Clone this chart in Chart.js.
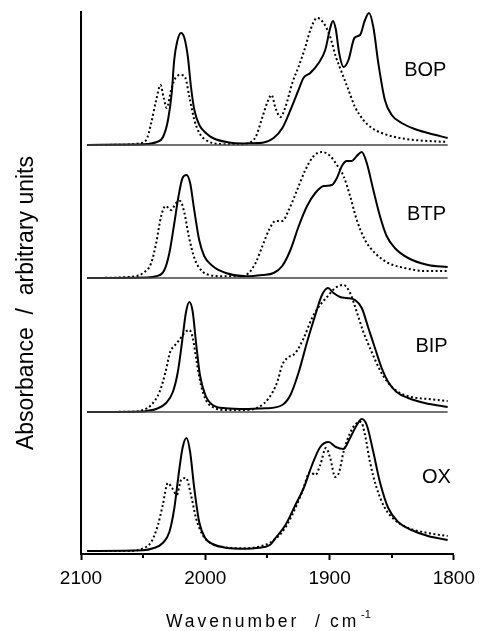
<!DOCTYPE html>
<html>
<head>
<meta charset="utf-8">
<script src="https://cdn.jsdelivr.net/npm/chart.js@4.4.1/dist/chart.umd.min.js"></script>
<style>
  html, body { margin: 0; padding: 0; background: #fff; }
</style>
</head>
<body>
<canvas id="myChart" width="482" height="631"></canvas>
<script>
// panels, top to bottom
var names = ["BOP", "BTP", "BIP", "OX"];
var xTicks = [2100, 2000, 1900, 1800];
var minorTicks = [2050, 1950, 1850];

// wavenumbers (cm-1) and absorbance (arbitrary units)
var bopSolidX = [2095, 2060, 2047, 2039, 2034, 2030, 2027, 2025, 2022.7, 2019.5, 2016.8, 2014, 2011.5, 2008.8, 2004.8, 1999.5, 1994, 1981, 1970, 1965, 1954, 1945, 1938, 1931.5, 1925, 1921, 1915.5, 1908.8, 1903.5, 1899.5, 1897.3, 1894.9, 1892.3, 1888.8, 1884.8, 1880, 1875.5, 1871.5, 1868.3, 1864.8, 1860.8, 1855.5, 1850, 1842, 1831.5, 1820.8, 1805];
var bopSolidY = [0, 0.5, 1, 3, 8, 25, 52, 85, 103, 112, 107, 88, 58, 35, 20, 12, 7, 2.5, 1.5, 1.7, 2.3, 7, 17, 35, 55, 67, 72, 82, 95, 117, 124, 115, 92, 78, 85, 107, 110, 125, 132, 118, 82, 45, 30, 22, 16, 12, 7];
var bopDotX = [2095, 2061, 2053, 2047.5, 2043.5, 2039.5, 2036, 2033.6, 2031, 2027.5, 2023.5, 2019.5, 2016, 2012.8, 2008.8, 2004.8, 1999.5, 1988.8, 1972.8, 1965, 1959.5, 1954, 1950, 1946.7, 1943.5, 1939.5, 1935.5, 1930, 1925, 1919.5, 1915.5, 1910, 1904.8, 1899.5, 1894.9, 1890, 1884.8, 1879.5, 1872.8, 1866, 1858, 1847.5, 1831.5, 1805];
var bopDotY = [0, 0.5, 1.7, 5, 22, 45, 60, 48, 37, 55, 68, 70, 67, 48, 25, 12, 5, 1, 0.7, 2, 8, 28, 43, 50, 37, 28, 38, 62, 78, 98, 115, 127, 122, 108, 88, 72, 55, 38, 25, 17, 12, 8, 5, 3];

var btpSolidX = [2095, 2047.5, 2039.5, 2032.9, 2028.9, 2024.9, 2021.5, 2018.3, 2015.1, 2012.2, 2008.9, 2004.9, 2000.9, 1994.1, 1983.5, 1967.5, 1954, 1945, 1938.1, 1931.5, 1924.8, 1918.1, 1911.5, 1904.8, 1898.1, 1894.1, 1890.1, 1886.1, 1882.1, 1878.1, 1874.1, 1870.1, 1864.8, 1859.5, 1854.1, 1847.5, 1836.8, 1820.8, 1805];
var btpSolidY = [0, 0.5, 1.7, 8, 25, 55, 82, 100, 103, 95, 68, 38, 22, 12, 5, 1.7, 3, 5, 12, 28, 52, 72, 85, 92, 93, 100, 112, 117, 117, 122, 126, 115, 88, 62, 42, 30, 20, 13, 11];
var btpDotX = [2095, 2061, 2050, 2043.5, 2039.5, 2035.5, 2032, 2027.5, 2023.5, 2020.3, 2016.8, 2013.3, 2008.8, 2003.5, 1996.8, 1983.5, 1970, 1965, 1959.5, 1954, 1948.8, 1943.5, 1938.1, 1932.8, 1926.1, 1919.5, 1912.8, 1906.1, 1899.5, 1894.1, 1888.8, 1883.5, 1878.1, 1871.5, 1863.5, 1852.8, 1839.5, 1823.5, 1805];
var btpDotY = [0, 1, 5, 15, 35, 62, 72, 68, 75, 77, 65, 42, 20, 8, 3, 1.7, 2, 5, 15, 32, 48, 57, 57, 68, 88, 108, 122, 126, 122, 113, 102, 82, 58, 38, 25, 15, 10, 7, 7];

var bipSolidX = [2095, 2050, 2047.5, 2039.5, 2031.5, 2026.1, 2022.1, 2018.7, 2015.5, 2012.8, 2010.1, 2007.5, 2004.3, 2000, 1994.1, 1983.5, 1967.5, 1957, 1951.5, 1938.1, 1931.5, 1924.8, 1918.1, 1911.5, 1906.1, 1901.3, 1896.8, 1891.5, 1886.1, 1879.5, 1874.1, 1868.8, 1863.5, 1858.1, 1852.8, 1846.1, 1836.8, 1823.5, 1805];
var bipSolidY = [0, 0.5, 1, 3, 9, 20, 40, 70, 100, 110, 100, 70, 37, 17, 7, 3.7, 3, 3.5, 3.7, 7, 17, 40, 70, 97, 117, 124, 119, 115, 114, 112, 104, 84, 64, 44, 30, 20, 14, 9, 5];
var bipDotX = [2095, 2060.8, 2050, 2043.5, 2036.8, 2032, 2028.3, 2024.9, 2020.9, 2016.8, 2012.8, 2010.1, 2006.9, 2003.5, 1999.5, 1994.1, 1983.5, 1967.5, 1956.8, 1948.8, 1942.1, 1938.1, 1934.1, 1927.5, 1920.8, 1914.1, 1908.8, 1902.1, 1895.5, 1888.8, 1883.5, 1878.1, 1872.8, 1866.1, 1859.5, 1852.8, 1844.8, 1834.1, 1820.8, 1805];
var bipDotY = [0, 0.3, 2, 7, 20, 40, 60, 66, 72, 79, 82, 74, 50, 27, 12, 5, 2, 2, 5, 14, 30, 47, 54, 59, 74, 94, 105, 115, 124, 127, 119, 100, 80, 60, 42, 29, 20, 15, 13, 11];

var oxSolidX = [2095, 2050, 2042, 2034.2, 2028.9, 2024.9, 2021.5, 2018.3, 2015.1, 2012.2, 2008.9, 2004.9, 2000.1, 1994.1, 1983.5, 1967.5, 1957, 1948, 1943.5, 1935.5, 1927.5, 1920.8, 1914.1, 1907.5, 1900.8, 1894.9, 1888.8, 1883.5, 1878.1, 1874.1, 1870.1, 1864.8, 1859.5, 1852.8, 1844.8, 1834.1, 1820.8, 1805];
var oxSolidY = [0, 0.7, 2.7, 8, 19, 43, 76, 103, 113, 99, 63, 29, 13, 7, 3.3, 2.3, 3.3, 6, 13, 26, 46, 63, 86, 104, 109, 104, 102, 113, 126, 132, 126, 99, 69, 43, 29, 21, 15, 11];
var oxDotX = [2095, 2060.8, 2050, 2043.5, 2038.1, 2034.2, 2030.1, 2026.7, 2022.9, 2019.5, 2015.5, 2011.5, 2007.5, 2002.1, 1995.5, 1986.1, 1967.5, 1957, 1948.8, 1938.1, 1930.1, 1922.1, 1915.5, 1911.5, 1907.5, 1903, 1899.5, 1895.5, 1892.3, 1888.8, 1883.5, 1878.1, 1874.7, 1871.5, 1867.5, 1862.1, 1855.5, 1847.5, 1836.8, 1820.8, 1805];
var oxDotY = [0, 0, 2.7, 9, 26, 46, 68, 63, 56, 71, 73, 56, 33, 16, 7.7, 4, 2.7, 4.3, 7.7, 19, 36, 59, 79, 76, 86, 103, 93, 74, 79, 99, 118, 128, 129, 116, 89, 63, 43, 31, 23, 18, 15];

// vertical stacking of the panels
var offsets = [409, 276, 142, 3];
var baseLines = [409, 276, 142];

function pts(xs, ys, off) {
  return xs.map(function (x, i) { return { x: x, y: ys[i] + off }; });
}

var series = [
  [bopSolidX, bopSolidY, bopDotX, bopDotY],
  [btpSolidX, btpSolidY, btpDotX, btpDotY],
  [bipSolidX, bipSolidY, bipDotX, bipDotY],
  [oxSolidX, oxSolidY, oxDotX, oxDotY]
];

var datasets = [];
baseLines.forEach(function (b) {
  datasets.push({ data: [{ x: 2095, y: b }, { x: 1805, y: b }], borderColor: "#444", borderWidth: 1.5, pointRadius: 0 });
});
series.forEach(function (s, i) {
  datasets.push({ label: names[i] + " dotted", data: pts(s[2], s[3], offsets[i]), borderColor: "#000", borderWidth: 2, borderDash: [2, 2.5], pointRadius: 0, cubicInterpolationMode: "monotone" });
  datasets.push({ label: names[i], data: pts(s[0], s[1], offsets[i]), borderColor: "#000", borderWidth: 2, pointRadius: 0, cubicInterpolationMode: "monotone" });
});

var FONT = "'Liberation Sans', Arial, sans-serif";

var extras = {
  id: "extras",
  afterDraw: function (chart) {
    var ctx = chart.ctx, xs = chart.scales.x, ys = chart.scales.y;
    ctx.save();
    // minor ticks
    ctx.strokeStyle = "#000";
    ctx.lineWidth = 2;
    minorTicks.forEach(function (v) {
      var px = Math.round(xs.getPixelForValue(v));
      ctx.beginPath();
      ctx.moveTo(px, ys.bottom);
      ctx.lineTo(px, ys.bottom + 4);
      ctx.stroke();
    });
    // panel labels
    var labWn = [1823, 1822, 1818, 1814];
    var labH = [75, 64, 66, 74];
    ctx.fillStyle = "#000";
    ctx.font = "20px " + FONT;
    ctx.textAlign = "center";
    ctx.textBaseline = "middle";
    names.forEach(function (n, i) {
      ctx.fillText(n, xs.getPixelForValue(labWn[i]), ys.getPixelForValue(offsets[i] + labH[i]));
    });
    // y title
    ctx.save();
    ctx.translate(33, 303);
    ctx.rotate(-Math.PI / 2);
    ctx.font = "23px " + FONT;
    ctx.textAlign = "center";
    ctx.textBaseline = "alphabetic";
    ctx.fillText("Absorbance  /  arbitrary units", 0, 0);
    ctx.restore();
    // x title
    ctx.font = "17.5px " + FONT;
    ctx.textAlign = "left";
    ctx.textBaseline = "alphabetic";
    ctx.letterSpacing = "3px";
    ctx.fillText("Wavenumber", 166, 627);
    ctx.fillText("/", 315, 627);
    ctx.fillText("cm", 330, 627);
    ctx.letterSpacing = "0px";
    ctx.font = "11px " + FONT;
    ctx.fillText("-1", 361, 618);
    ctx.restore();
  }
};

var ctx = document.getElementById("myChart");
var myChart = new Chart(ctx, {
  type: "line",
  data: { datasets: datasets },
  options: {
    responsive: false,
    animation: false,
    layout: { autoPadding: false, padding: { top: 12, right: 26, left: 0, bottom: 0 } },
    plugins: { legend: { display: false }, tooltip: { enabled: false } },
    scales: {
      x: {
        type: "linear",
        reverse: true,
        min: 1800,
        max: 2100,
        afterFit: function (s) { s.height = 77; },
        afterBuildTicks: function (s) { s.ticks = xTicks.map(function (v) { return { value: v }; }); },
        ticks: {
          color: "#000",
          font: { size: 19, family: FONT },
          padding: 7,
          maxRotation: 0,
          callback: function (v) { return String(v); }
        },
        grid: { display: true, drawOnChartArea: false, drawTicks: true, tickLength: 6, tickWidth: 2, tickColor: "#000" },
        border: { display: true, color: "#000", width: 2 }
      },
      y: {
        type: "linear",
        min: 0,
        max: 542,
        afterFit: function (s) { s.width = 81; },
        ticks: { display: false },
        grid: { display: false, drawTicks: false },
        border: { display: true, color: "#000", width: 2 }
      }
    }
  },
  plugins: [extras]
});
</script>
</body>
</html>
